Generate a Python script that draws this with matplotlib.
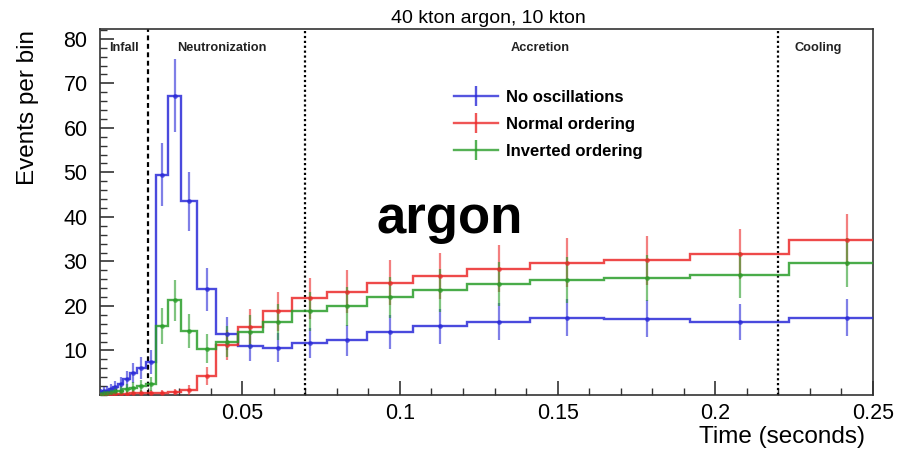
import numpy as np
import matplotlib
matplotlib.use("Agg")
import matplotlib.pyplot as plt
from matplotlib.lines import Line2D
from matplotlib.ticker import MultipleLocator

plt.rcParams["font.family"] = ["Liberation Sans", "DejaVu Sans"]

# bin edges (seconds), log-spaced
edges = [0.0049, 0.0057, 0.0067, 0.0078, 0.0091, 0.0105, 0.0123, 0.0143, 0.0167,
         0.0194, 0.0226, 0.0264, 0.0307, 0.0358, 0.0417, 0.0486, 0.0566, 0.0659,
         0.0768, 0.0895, 0.1042, 0.1214, 0.1414, 0.1648, 0.1919, 0.2235, 0.2600]

no_osc = [0.6, 0.8, 1.0, 1.3, 1.8, 2.5, 3.5, 5.0, 6.0, 7.4,
          49.5, 67.2, 43.5, 23.7, 13.8, 10.9, 10.6, 11.7, 12.3, 14.1,
          15.4, 16.5, 17.3, 17.1, 16.3, 17.4]
normal = [0.1, 0.1, 0.2, 0.2, 0.2, 0.3, 0.3, 0.4, 0.4, 0.5,
          0.4, 0.6, 1.1, 4.2, 11.3, 15.3, 18.8, 21.7, 23.2, 25.2,
          26.7, 28.4, 29.7, 30.3, 31.7, 34.8]
inverted = [0.3, 0.4, 0.5, 0.6, 0.8, 1.0, 1.3, 1.6, 2.0, 2.4,
            15.5, 21.3, 14.4, 10.4, 12.0, 14.1, 16.4, 18.8, 19.9, 21.9,
            23.5, 24.9, 25.8, 26.3, 26.9, 29.7]

labels = ["No oscillations", "Normal ordering", "Inverted ordering"]
colors = ["#2a2ad8", "#ec2a2a", "#2a9e2a"]

phase_edges = [0.02, 0.07, 0.22]
phase_names = ["Infall", "Neutronization", "Accretion", "Cooling"]
phase_label_x = [0.0124, 0.0435, 0.1444, 0.2327]

fig = plt.figure(figsize=(8.97, 4.51), dpi=100)
ax = fig.add_axes([0.1115, 0.1242, 0.8617, 0.8115])

edges_a = np.array(edges)
centers = 0.5 * (edges_a[:-1] + edges_a[1:])

for vals, c in zip([no_osc, normal, inverted], colors):
    v = np.array(vals)
    ax.stairs(v, edges_a, baseline=None, color=c, lw=1.7, alpha=0.85, zorder=3)
    # Poisson errors, as in the original histogram
    ax.errorbar(centers, v, yerr=np.sqrt(v), fmt="o", ms=2.5, color=c,
                elinewidth=1.6, capsize=0, alpha=0.6, zorder=4)

# phase boundaries
ax.axvline(phase_edges[0], color="black", lw=1.6, ls=(0, (2.2, 1.6)), zorder=2)
for x in phase_edges[1:]:
    ax.axvline(x, color="black", lw=1.6, ls=(0, (1, 1.2)), zorder=2)

for x, name in zip(phase_label_x, phase_names):
    ax.text(x, 78.0, name, ha="center", va="center", fontsize=9.2,
            fontweight="bold", color="#222222")

ax.set_xlim(0.0049, 0.25)
ax.set_ylim(0, 82.2)

ax.xaxis.set_minor_locator(MultipleLocator(0.01))
ax.set_xticks([0.05, 0.1, 0.15, 0.2, 0.25])
ax.set_xticklabels(["0.05", "0.1", "0.15", "0.2", "0.25"])
ax.set_yticks([10, 20, 30, 40, 50, 60, 70, 80])
ax.yaxis.set_minor_locator(MultipleLocator(2))
ax.tick_params(which="both", direction="in", labelsize=15.5, color="#333333")
ax.tick_params(which="major", length=10, width=1.2)
ax.tick_params(which="minor", length=5, width=1)
ax.tick_params(axis="x", pad=6)
ax.tick_params(axis="y", pad=9)
for s in ax.spines.values():
    s.set_linewidth(1.2)
    s.set_color("#333333")

fig.text(0.5445, 0.958, "40 kton argon, 10 kton", ha="center", va="center",
         fontsize=14)
fig.text(0.9645, 0.031, "Time (seconds)", ha="right", va="center", fontsize=17.5)
fig.text(0.031, 0.934, "Events per bin", ha="center", va="top", rotation=90,
         fontsize=17.5)
fig.text(0.5017, 0.483, "argon", ha="center", va="baseline", fontsize=38,
         fontweight="bold")

handles = [Line2D([0], [0], color=c, lw=1.7, marker="|", ms=14, mew=1.7, alpha=0.8)
           for c in colors]
leg = ax.legend(handles, labels, loc="upper left", bbox_to_anchor=(0.4475, 0.857),
                frameon=False, fontsize=12, handlelength=2.6, handletextpad=0.5,
                labelspacing=0.72, borderpad=0)
for t in leg.get_texts():
    t.set_fontweight("bold")

fig.savefig("out.png", dpi=100)
